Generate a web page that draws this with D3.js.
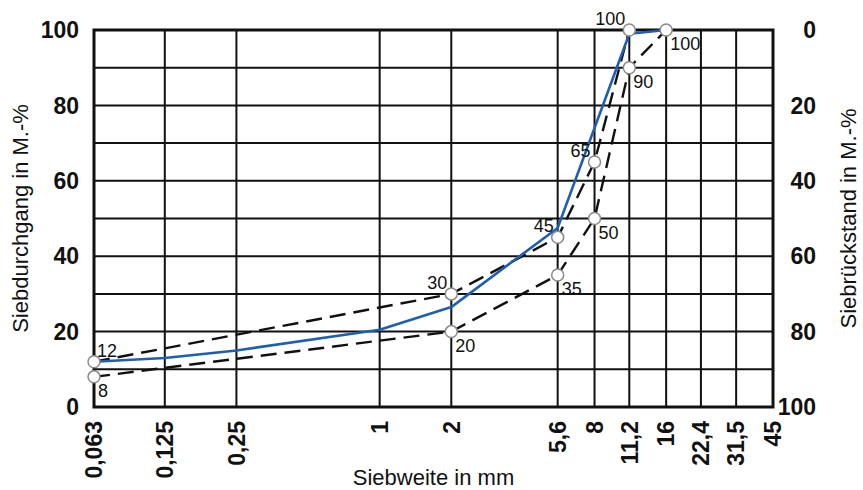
<!DOCTYPE html>
<html>
<head>
<meta charset="utf-8">
<style>
  body { margin: 0; background: #fff; }
  svg { display: block; }
  .tick-label { font-family: "Liberation Sans", Arial, sans-serif; font-weight: bold; font-size: 23px; fill: #111; }
  .axis-title { font-family: "Liberation Sans", Arial, sans-serif; font-size: 22px; fill: #111; }
  .point-label { font-family: "Liberation Sans Narrow", "Liberation Sans", Arial, sans-serif; font-size: 18px; fill: #111; }
</style>
</head>
<body>
<svg></svg>
<script src="https://cdn.jsdelivr.net/npm/d3@7/dist/d3.min.js"></script>
<script>

  // sieve sizes (mm) and their labels on the x axis
  const sieves = [0.063, 0.125, 0.25, 1, 2, 5.6, 8, 11.2, 16, 22.4, 31.5, 45]
  const sieveLabels = ["0,063", "0,125", "0,25", "1", "2", "5,6", "8", "11,2", "16", "22,4", "31,5", "45"]

  // left axis: Siebdurchgang, right axis: Siebrückstand
  const passTicks = [0, 20, 40, 60, 80, 100]
  const retainTicks = [100, 80, 60, 40, 20, 0]
  const gridLevels = [0, 10, 20, 30, 40, 50, 60, 70, 80, 90, 100]

  // grading limits (dashed)
  const upperSizes = [0.063, 2, 5.6, 8, 11.2]
  const upperValues = [12, 30, 45, 65, 100]
  const lowerSizes = [0.063, 2, 5.6, 8, 11.2, 16]
  const lowerValues = [8, 20, 35, 50, 90, 100]

  // measured grading curve (blue)
  const curveSizes = [0.063, 0.125, 0.25, 1, 2, 5.6, 8, 11.2, 16]
  const curveValues = [12, 13, 15, 20.5, 26.5, 47.5, 74, 99, 100]

  const width = 863,
        height = 490
  const margin = {left: 94, top: 30, right: 90, bottom: 83}
  const w = width - margin.left - margin.right,
        h = height - margin.top - margin.bottom

  const colors = {grid: '#111', blue: '#1f5fae', circle: '#8a8a8a'}

  const xScale = d3.scaleLog()
    .domain([0.063, 45])
    .range([0, w])

  const yScale = d3.scaleLinear()
    .domain([0, 100])
    .range([h, 0])

  const svg = d3.select("svg")
    .attr("width", width)
    .attr("height", height)

  const g = svg.append("g")
    .attr("transform", `translate(${margin.left}, ${margin.top})`)

  // grid
  g.selectAll(".hgrid")
    .data(gridLevels)
    .enter()
    .append("line")
      .attr("class", "hgrid")
      .attr("x1", 0)
      .attr("x2", w)
      .attr("y1", d => yScale(d))
      .attr("y2", d => yScale(d))
      .attr("stroke", colors.grid)
      .attr("stroke-width", 2)

  g.selectAll(".vgrid")
    .data(sieves)
    .enter()
    .append("line")
      .attr("class", "vgrid")
      .attr("x1", d => xScale(d))
      .attr("x2", d => xScale(d))
      .attr("y1", 0)
      .attr("y2", h)
      .attr("stroke", colors.grid)
      .attr("stroke-width", 2)

  g.append("rect")
    .attr("x", 0)
    .attr("y", 0)
    .attr("width", w)
    .attr("height", h)
    .attr("fill", "none")
    .attr("stroke", colors.grid)
    .attr("stroke-width", 3)

  // left axis labels
  g.selectAll(".yLeft")
    .data(passTicks)
    .enter()
    .append("text")
      .attr("class", "tick-label")
      .attr("x", -15)
      .attr("y", d => yScale(d))
      .attr("dy", "0.36em")
      .style("text-anchor", "end")
      .text(d => d)

  // right axis labels
  g.selectAll(".yRight")
    .data(retainTicks)
    .enter()
    .append("text")
      .attr("class", "tick-label")
      .attr("x", w + 43)
      .attr("y", (d, i) => yScale(passTicks[i]))
      .attr("dy", "0.36em")
      .style("text-anchor", "end")
      .text(d => d)

  // x axis labels (rotated)
  g.selectAll(".xLabel")
    .data(sieves)
    .enter()
    .append("text")
      .attr("class", "tick-label")
      .attr("transform", d => `translate(${xScale(d)}, ${h + 14}) rotate(-90)`)
      .attr("dy", "0.36em")
      .style("text-anchor", "end")
      .text((d, i) => sieveLabels[i])

  // axis titles
  g.append("text")
    .attr("class", "axis-title")
    .attr("transform", `translate(${w / 2}, ${h + 78})`)
    .style("text-anchor", "middle")
    .text("Siebweite in mm")

  g.append("text")
    .attr("class", "axis-title")
    .attr("transform", `translate(${-66}, ${h / 2}) rotate(-90)`)
    .style("text-anchor", "middle")
    .text("Siebdurchgang in M.-%")

  g.append("text")
    .attr("class", "axis-title")
    .attr("transform", `translate(${w + 83}, ${h / 2}) rotate(-90)`)
    .style("text-anchor", "middle")
    .text("Siebrückstand in M.-%")

  // lines
  const line = d3.line()
    .x(d => xScale(d[0]))
    .y(d => yScale(d[1]))

  const upper = upperSizes.map((s, i) => [s, upperValues[i]])
  const lower = lowerSizes.map((s, i) => [s, lowerValues[i]])
  const curve = curveSizes.map((s, i) => [s, curveValues[i]])

  g.selectAll(".limit")
    .data([upper, lower])
    .enter()
    .append("path")
      .attr("class", "limit")
      .attr("d", line)
      .attr("fill", "none")
      .attr("stroke", "#111")
      .attr("stroke-width", 2.4)
      .attr("stroke-dasharray", "16,8")

  g.append("path")
    .attr("d", line(curve))
    .attr("fill", "none")
    .attr("stroke", colors.blue)
    .attr("stroke-width", 2.6)
    .attr("stroke-linejoin", "round")

  // circles on the limits
  g.selectAll(".pt")
    .data(upper.concat(lower))
    .enter()
    .append("circle")
      .attr("class", "pt")
      .attr("cx", d => xScale(d[0]))
      .attr("cy", d => yScale(d[1]))
      .attr("r", 6)
      .attr("fill", "#fff")
      .attr("stroke", colors.circle)
      .attr("stroke-width", 1.5)

  // value labels: upper limit above left (first one above right), lower limit below right
  g.selectAll(".upLabel")
    .data(upper)
    .enter()
    .append("text")
      .attr("class", "point-label")
      .attr("x", (d, i) => xScale(d[0]) + (i == 0 ? 3 : -4))
      .attr("y", d => yScale(d[1]) - 5)
      .style("text-anchor", (d, i) => i == 0 ? "start" : "end")
      .text(d => d[1])

  g.selectAll(".lowLabel")
    .data(lower)
    .enter()
    .append("text")
      .attr("class", "point-label")
      .attr("x", d => xScale(d[0]) + 4)
      .attr("y", d => yScale(d[1]) + 20)
      .text(d => d[1])

</script>
</body>
</html>
